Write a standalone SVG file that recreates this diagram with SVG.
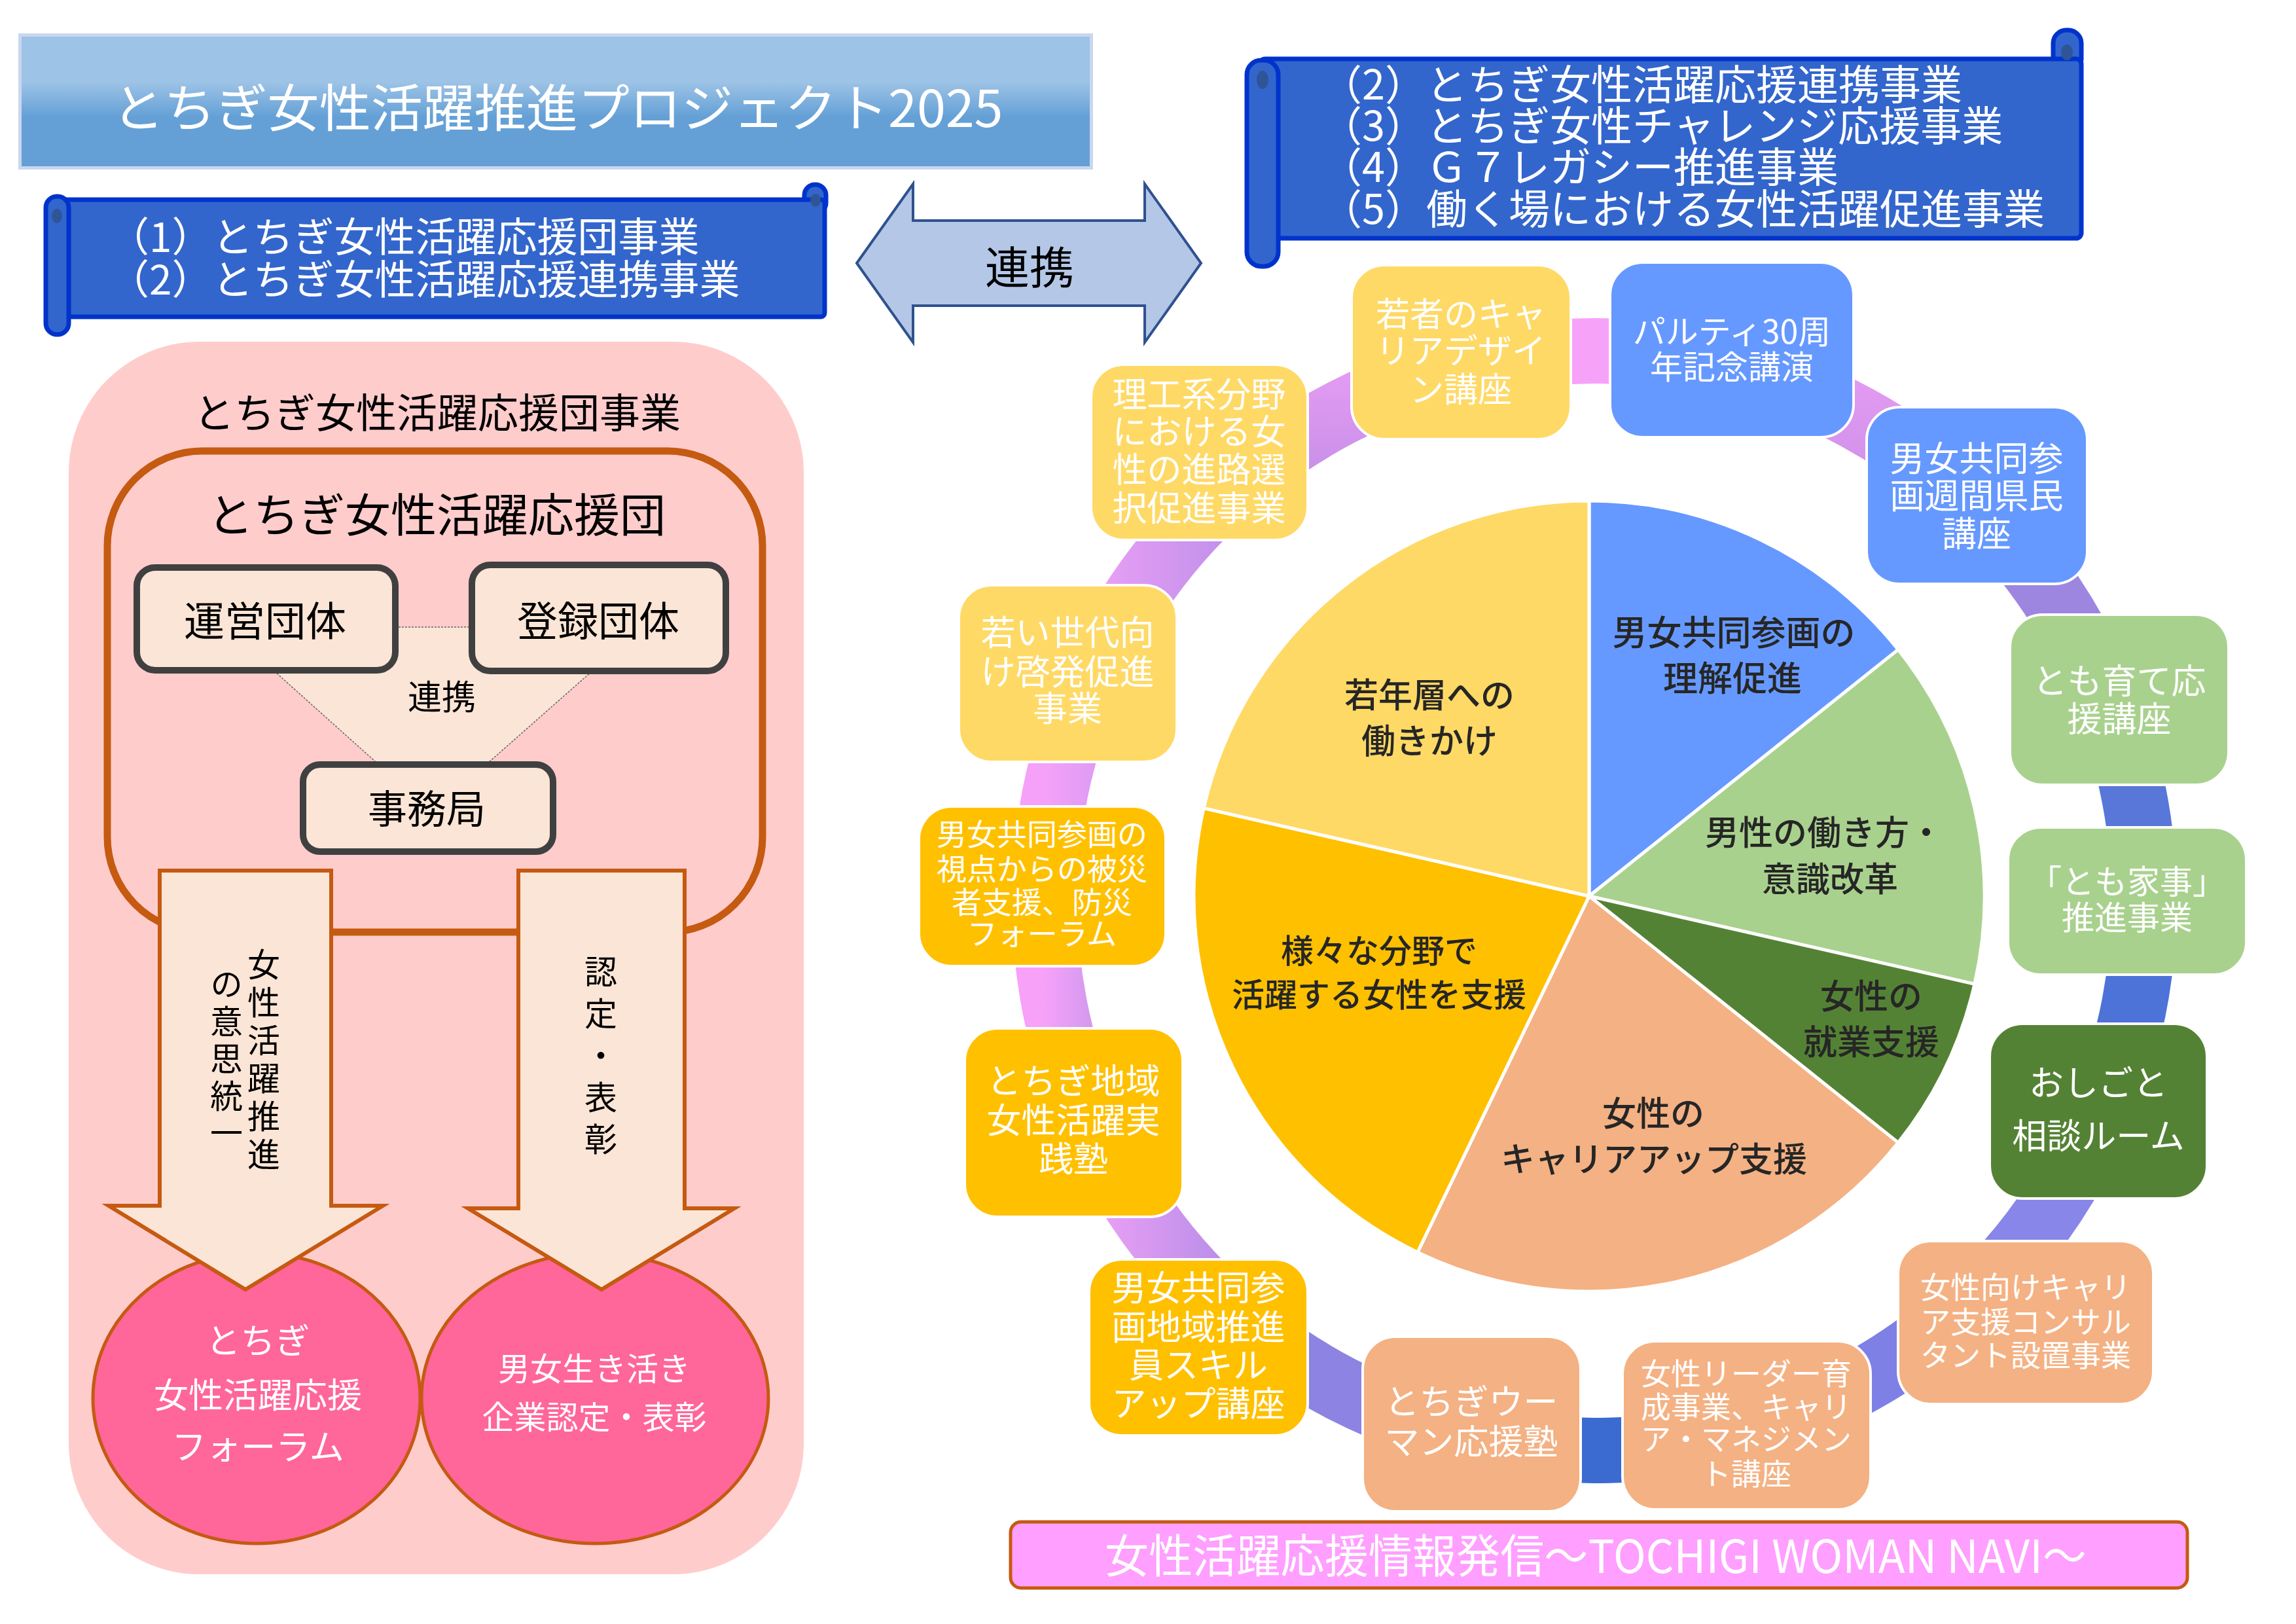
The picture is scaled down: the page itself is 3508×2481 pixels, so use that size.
<svg xmlns="http://www.w3.org/2000/svg" width="3508" height="2481" viewBox="0 0 3508 2481">
<defs>
<style>
.t{font-family:"Noto Sans CJK JP","Noto Sans",sans-serif}
.w{fill:#ffffff}
.k{fill:#000000}
.pl{fill:#262626;font-weight:500}
.node{stroke:#ffffff;stroke-width:4}
.ring{fill:none;stroke-width:100}
.slice{stroke:#ffffff;stroke-width:5;stroke-linejoin:round}
.scroll{fill:#3366CC;stroke:#0033CC;stroke-width:7}
.pbox{fill:#FBE5D6;stroke:#404040;stroke-width:10}
.darr{fill:#FBE5D6;stroke:#C55A11;stroke-width:6}
.circ{fill:#FF6699;stroke:#C55A11;stroke-width:5}
</style>
<linearGradient id="gTitle" x1="0" y1="0" x2="0" y2="1">
<stop offset="0" stop-color="#9DC3E6"/><stop offset="0.35" stop-color="#9DC3E6"/><stop offset="0.62" stop-color="#64A0D6"/><stop offset="1" stop-color="#64A0D6"/>
</linearGradient>
<linearGradient id="gV1" x1="0" y1="0" x2="0" y2="1"><stop offset="0" stop-color="#E59CF3"/><stop offset="1" stop-color="#C48EE8"/></linearGradient>
<linearGradient id="gV2" x1="0" y1="0" x2="0" y2="1"><stop offset="0" stop-color="#E49CF3"/><stop offset="1" stop-color="#CC8EE8"/></linearGradient>
<linearGradient id="gH10" x1="0" y1="0" x2="1" y2="0"><stop offset="0" stop-color="#EDA1F6"/><stop offset="1" stop-color="#B88DE8"/></linearGradient>
<linearGradient id="gH11" x1="0" y1="0" x2="1" y2="0"><stop offset="0" stop-color="#F7A1F9"/><stop offset="1" stop-color="#D59AF0"/></linearGradient>
<linearGradient id="gH12" x1="0" y1="0" x2="1" y2="0"><stop offset="0" stop-color="#F5A1F9"/><stop offset="1" stop-color="#E19CF4"/></linearGradient>
<linearGradient id="gH13" x1="0" y1="0" x2="1" y2="0"><stop offset="0" stop-color="#EBA0F6"/><stop offset="1" stop-color="#C090EA"/></linearGradient>
</defs>
<rect x="0" y="0" width="3508" height="2481" fill="#ffffff"/>

<g id="title">
<rect x="28" y="51" width="1642" height="208" fill="#C9D7EE"/>
<rect x="33" y="56" width="1632" height="198" fill="url(#gTitle)"/>
<text class="t w" x="852" y="194" font-size="78" text-anchor="middle" textLength="1361" lengthAdjust="spacingAndGlyphs">とちぎ女性活躍推進プロジェクト2025</text>
</g>

<g id="scroll-left">
<rect class="scroll" x="1229" y="282" width="33" height="44" rx="16"/>
<rect class="scroll" x="88" y="305" width="1172" height="179" rx="6"/>
<ellipse cx="1246" cy="306" rx="8" ry="10" fill="#2F5597"/>
<rect class="scroll" x="70" y="300" width="35" height="211" rx="17"/>
<ellipse cx="87" cy="330" rx="8" ry="11" fill="#2F5597"/>
<text class="t w" font-size="62" x="166" y="385">（1）とちぎ女性活躍応援団事業</text>
<text class="t w" font-size="62" x="166" y="450">（2）とちぎ女性活躍応援連携事業</text>
</g>

<g id="scroll-right">
<rect class="scroll" x="3137" y="46" width="43" height="64" rx="20"/>
<rect class="scroll" x="1925" y="90" width="1255" height="274" rx="8"/>
<ellipse cx="3158" cy="80" rx="9" ry="12" fill="#2F5597"/>
<rect class="scroll" x="1905" y="92" width="48" height="315" rx="22"/>
<ellipse cx="1929" cy="122" rx="9" ry="14" fill="#2F5597"/>
<text class="t w" font-size="63" x="2018" y="152">（2）とちぎ女性活躍応援連携事業</text>
<text class="t w" font-size="63" x="2018" y="215">（3）とちぎ女性チャレンジ応援事業</text>
<text class="t w" font-size="63" x="2018" y="278">（4）Ｇ７レガシー推進事業</text>
<text class="t w" font-size="63" x="2018" y="342">（5）働く場における女性活躍促進事業</text>
</g>

<g id="renkei-arrow">
<path d="M1309,402 L1395,281 L1395,337 L1749,337 L1749,281 L1835,402 L1749,523 L1749,467 L1395,467 L1395,523 Z" fill="#B4C7E7" stroke="#2F528F" stroke-width="4" stroke-linejoin="miter"/>
<text class="t k" font-size="68" x="1573" y="434" text-anchor="middle">連携</text>
</g>

<g id="ouendan-panel">
<rect x="105" y="522" width="1123" height="1883" rx="200" fill="#FFCCCC"/>
<text class="t k" font-size="62" x="668" y="654" text-anchor="middle">とちぎ女性活躍応援団事業</text>
<rect x="164" y="689" width="1001" height="735" rx="145" fill="#FFCCCC" stroke="#C55A11" stroke-width="11"/>
<text class="t k" font-size="70" x="667" y="813" text-anchor="middle">とちぎ女性活躍応援団</text>
</g>

<g id="forum-circle">
<ellipse class="circ" cx="392" cy="2136" rx="250" ry="222"/>
<text class="t w" font-size="53" text-anchor="middle"><tspan x="394" y="2068">とちぎ</tspan><tspan x="394" y="2151">女性活躍応援</tspan><tspan x="394" y="2230">フォーラム</tspan></text>
</g>
<g id="award-circle">
<ellipse class="circ" cx="909" cy="2136" rx="265" ry="222"/>
<text class="t w" font-size="49" text-anchor="middle"><tspan x="908" y="2109">男女生き活き</tspan><tspan x="908" y="2183">企業認定・表彰</tspan></text>
</g>

<g id="panel-connectors">
<polygon points="344,958 981,958 660,1241" fill="#FBE5D6" stroke="#666666" stroke-width="1.5" stroke-dasharray="3 2"/>
<text class="t k" font-size="52" x="675" y="1084" text-anchor="middle">連携</text>
<path class="darr" d="M244,1330 L506,1330 L506,1842 L585,1842 L375,1970 L166,1842 L244,1842 Z"/>
<path class="darr" d="M792,1330 L1046,1330 L1046,1846 L1122,1846 L919,1970 L715,1846 L792,1846 Z"/>
<text class="t k" font-size="50" x="403" y="1448" writing-mode="tb" letter-spacing="8">女性活躍推進</text>
<text class="t k" font-size="50" x="346" y="1478" writing-mode="tb" letter-spacing="7">の意思統一</text>
<text class="t k" font-size="50" x="918" y="1459" writing-mode="tb" letter-spacing="14">認定・表彰</text>
</g>

<g id="unei">
<rect class="pbox" x="209" y="867" width="395" height="157" rx="28"/>
<text class="t k" font-size="62" x="405" y="972" text-anchor="middle">運営団体</text>
</g>
<g id="touroku">
<rect class="pbox" x="721" y="863" width="388" height="162" rx="28"/>
<text class="t k" font-size="62" x="914" y="972" text-anchor="middle">登録団体</text>
</g>
<g id="jimukyoku">
<rect class="pbox" x="463" y="1168" width="382" height="133" rx="26"/>
<text class="t k" font-size="60" x="652" y="1258" text-anchor="middle">事務局</text>
</g>

<g id="ring-connectors">
<path class="ring" stroke="url(#gV1)" d="M1880.5,745.9 A840,840 0 0 1 2237.1,559.9"/>
<path class="ring" stroke="#F7A2F9" d="M2237.1,559.9 A840,840 0 0 1 2639.2,560.9"/>
<path class="ring" stroke="url(#gV2)" d="M2639.2,560.9 A840,840 0 0 1 3012.1,764.6"/>
<path class="ring" stroke="#9D86E0" d="M3012.1,764.6 A840,840 0 0 1 3220.7,1076.4"/>
<path class="ring" stroke="#5877D8" d="M3220.7,1076.4 A840,840 0 0 1 3276,1376"/>
<path class="ring" stroke="#4D72D8" d="M3276,1376 A840,840 0 0 1 3211.5,1698.8"/>
<path class="ring" stroke="#8886E8" d="M3211.5,1698.8 A840,840 0 0 1 3037.2,1962.7"/>
<path class="ring" stroke="#7E80E6" d="M3037.2,1962.7 A840,840 0 0 1 2670.4,2182.7"/>
<path class="ring" stroke="#3B6BD0" d="M2670.4,2182.7 A840,840 0 0 1 2244.1,2193.8"/>
<path class="ring" stroke="#8C83E2" d="M2244.1,2193.8 A840,840 0 0 1 1877.8,2003.7"/>
<path class="ring" stroke="url(#gH10)" d="M1877.8,2003.7 A840,840 0 0 1 1663.4,1705.5"/>
<path class="ring" stroke="url(#gH11)" d="M1663.4,1705.5 A840,840 0 0 1 1596.3,1354.0"/>
<path class="ring" stroke="url(#gH12)" d="M1596.3,1354.0 A840,840 0 0 1 1664.5,1043.8"/>
<path class="ring" stroke="url(#gH13)" d="M1664.5,1043.8 A840,840 0 0 1 1880.5,745.9"/>
</g>

<g id="pie">
<path class="slice" fill="#6699FF" d="M2428,1369 L2428,765 A604,604 0 0 1 2900.2,992.4 Z"/>
<path class="slice" fill="#A9D18E" d="M2428,1369 L2900.2,992.4 A604,604 0 0 1 3016.9,1503.4 Z"/>
<path class="slice" fill="#548235" d="M2428,1369 L3016.9,1503.4 A604,604 0 0 1 2900.2,1745.6 Z"/>
<path class="slice" fill="#F4B183" d="M2428,1369 L2900.2,1745.6 A604,604 0 0 1 2165.9,1913.2 Z"/>
<path class="slice" fill="#FFC000" d="M2428,1369 L2165.9,1913.2 A604,604 0 0 1 1839.1,1234.6 Z"/>
<path class="slice" fill="#FFD966" d="M2428,1369 L1839.1,1234.6 A604,604 0 0 1 2428,765 Z"/>
<text class="t pl" font-size="52" text-anchor="middle"><tspan x="2184" y="1081">若年層への</tspan><tspan x="2184" y="1151">働きかけ</tspan></text>
<text class="t pl" font-size="53" text-anchor="middle"><tspan x="2649" y="986">男女共同参画の</tspan><tspan x="2647" y="1056">理解促進</tspan></text>
<text class="t pl" font-size="52" text-anchor="middle"><tspan x="2787" y="1291">男性の働き方・</tspan><tspan x="2796" y="1362">意識改革</tspan></text>
<text class="t pl" font-size="52" text-anchor="middle"><tspan x="2859" y="1541">女性の</tspan><tspan x="2859" y="1611">就業支援</tspan></text>
<text class="t pl" font-size="52" text-anchor="middle"><tspan x="2526" y="1720">女性の</tspan><tspan x="2527" y="1790">キャリアアップ支援</tspan></text>
<text class="t pl" font-size="50" text-anchor="middle"><tspan x="2107" y="1471">様々な分野で</tspan><tspan x="2107" y="1538">活躍する女性を支援</tspan></text>
</g>

<g id="n-wakamono">
<rect class="node" x="2065" y="405" width="335" height="266" rx="50" fill="#FFD966"/>
<text class="t w" font-size="52" text-anchor="middle"><tspan x="2232" y="499">若者のキャ</tspan><tspan x="2232" y="555">リアデザイ</tspan><tspan x="2232" y="614">ン講座</tspan></text>
</g>
<g id="n-parti">
<rect class="node" x="2460" y="401" width="372" height="267" rx="50" fill="#6699FF"/>
<text class="t w" font-size="50" text-anchor="middle"><tspan x="2646" y="525">パルティ30周</tspan><tspan x="2646" y="579">年記念講演</tspan></text>
</g>
<g id="n-shukan">
<rect class="node" x="2852" y="622" width="337" height="270" rx="50" fill="#6699FF"/>
<text class="t w" font-size="53" text-anchor="middle"><tspan x="3020" y="720">男女共同参</tspan><tspan x="3020" y="777">画週間県民</tspan><tspan x="3020" y="835">講座</tspan></text>
</g>
<g id="n-tomosodate">
<rect class="node" x="3071" y="939" width="334" height="260" rx="50" fill="#A9D18E"/>
<text class="t w" font-size="53" text-anchor="middle"><tspan x="3238" y="1060">とも育て応</tspan><tspan x="3238" y="1118">援講座</tspan></text>
</g>
<g id="n-tomokaji">
<rect class="node" x="3068" y="1264" width="364" height="225" rx="50" fill="#A9D18E"/>
<text class="t w" font-size="50" text-anchor="middle"><tspan x="3250" y="1365">「とも家事」</tspan><tspan x="3250" y="1420">推進事業</tspan></text>
</g>
<g id="n-oshigoto">
<rect class="node" x="3040" y="1564" width="332" height="267" rx="50" fill="#548235"/>
<text class="t w" font-size="53" text-anchor="middle"><tspan x="3206" y="1674">おしごと</tspan><tspan x="3206" y="1755">相談ルーム</tspan></text>
</g>
<g id="n-consul">
<rect class="node" x="2900" y="1896" width="390" height="249" rx="50" fill="#F4B183"/>
<text class="t w" font-size="46" text-anchor="middle"><tspan x="3095" y="1983">女性向けキャリ</tspan><tspan x="3095" y="2036">ア支援コンサル</tspan><tspan x="3095" y="2087">タント設置事業</tspan></text>
</g>
<g id="n-leader">
<rect class="node" x="2479" y="2049" width="379" height="257" rx="50" fill="#F4B183"/>
<text class="t w" font-size="46" text-anchor="middle"><tspan x="2668" y="2115">女性リーダー育</tspan><tspan x="2668" y="2166">成事業、キャリ</tspan><tspan x="2668" y="2215">ア・マネジメン</tspan><tspan x="2668" y="2268">ト講座</tspan></text>
</g>
<g id="n-woman-juku">
<rect class="node" x="2082" y="2042" width="333" height="267" rx="50" fill="#F4B183"/>
<text class="t w" font-size="53" text-anchor="middle"><tspan x="2248" y="2161">とちぎウー</tspan><tspan x="2248" y="2222">マン応援塾</tspan></text>
</g>
<g id="n-suishinin">
<rect class="node" x="1664" y="1924" width="334" height="269" rx="50" fill="#FFC000"/>
<text class="t w" font-size="53" text-anchor="middle"><tspan x="1831" y="1987">男女共同参</tspan><tspan x="1831" y="2047">画地域推進</tspan><tspan x="1831" y="2105">員スキル</tspan><tspan x="1831" y="2164">アップ講座</tspan></text>
</g>
<g id="n-jissenjuku">
<rect class="node" x="1474" y="1571" width="333" height="288" rx="50" fill="#FFC000"/>
<text class="t w" font-size="53" text-anchor="middle"><tspan x="1640" y="1671">とちぎ地域</tspan><tspan x="1640" y="1731">女性活躍実</tspan><tspan x="1640" y="1790">践塾</tspan></text>
</g>
<g id="n-bousai">
<rect class="node" x="1404" y="1232" width="377" height="244" rx="50" fill="#FFC000"/>
<text class="t w" font-size="46" text-anchor="middle"><tspan x="1592" y="1291">男女共同参画の</tspan><tspan x="1592" y="1344">視点からの被災</tspan><tspan x="1592" y="1395">者支援、防災</tspan><tspan x="1592" y="1443">フォーラム</tspan></text>
</g>
<g id="n-wakaisedai">
<rect class="node" x="1465" y="894" width="333" height="270" rx="50" fill="#FFD966"/>
<text class="t w" font-size="53" text-anchor="middle"><tspan x="1631" y="986">若い世代向</tspan><tspan x="1631" y="1046">け啓発促進</tspan><tspan x="1631" y="1102">事業</tspan></text>
</g>
<g id="n-rikou">
<rect class="node" x="1667" y="557" width="331" height="268" rx="50" fill="#FFD966"/>
<text class="t w" font-size="53" text-anchor="middle"><tspan x="1832" y="622">理工系分野</tspan><tspan x="1832" y="679">における女</tspan><tspan x="1832" y="737">性の進路選</tspan><tspan x="1832" y="796">択促進事業</tspan></text>
</g>

<g id="navi-banner">
<rect x="1544" y="2325" width="1798" height="101" rx="16" fill="#FF9FFF" stroke="#C55A11" stroke-width="5"/>
<text class="t w" font-size="70" x="1688" y="2403" textLength="1500" lengthAdjust="spacingAndGlyphs">女性活躍応援情報発信～TOCHIGI WOMAN NAVI～</text>
</g>
</svg>
